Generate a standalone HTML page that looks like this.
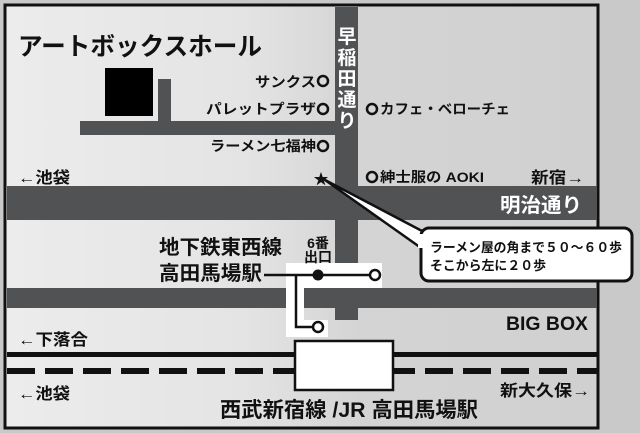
<!DOCTYPE html>
<html><head><meta charset="utf-8"><style>
html,body{margin:0;padding:0;background:#d0d0d0;}
svg{display:block;}
text{font-family:"Liberation Sans","Noto Sans CJK JP",sans-serif;font-weight:bold;}
</style></head><body>
<svg width="640" height="433" viewBox="0 0 640 433" xmlns="http://www.w3.org/2000/svg">
<defs>
<linearGradient id="bg" x1="0" y1="0" x2="1" y2="0">
<stop offset="0" stop-color="#ececec"/><stop offset="0.4" stop-color="#e4e4e4"/><stop offset="0.6" stop-color="#d4d4d4"/><stop offset="1" stop-color="#d0d0d0"/>
</linearGradient>
</defs>
<rect x="0" y="0" width="640" height="433" fill="#c9c9c9"/>
<rect x="5" y="5" width="593" height="423" fill="url(#bg)" stroke="#111" stroke-width="3"/>
<!-- roads -->
<rect x="335" y="7" width="23" height="313" fill="#505254"/>
<rect x="7" y="186" width="590" height="34" fill="#505254"/>
<rect x="7" y="288" width="590" height="20" fill="#505254"/>
<rect x="80" y="121" width="255" height="14" fill="#505254"/>
<rect x="158" y="79" width="13" height="44" fill="#505254"/>
<rect x="105" y="68" width="48" height="48" fill="#000"/>
<!-- title -->
<text x="18" y="55" font-size="25" fill="#111" textLength="244" lengthAdjust="spacingAndGlyphs">アートボックスホール</text>
<!-- vertical road text -->
<g fill="#fff" font-size="19" text-anchor="middle">
<text x="347" y="43">早</text><text x="347" y="64">稲</text><text x="347" y="85">田</text><text x="347" y="106">通</text><text x="347" y="127">り</text>
</g>
<!-- shops -->
<g font-size="14" fill="#111" lengthAdjust="spacingAndGlyphs">
<text x="255" y="87" textLength="61" lengthAdjust="spacingAndGlyphs">サンクス</text>
<text x="206" y="114" textLength="110" lengthAdjust="spacingAndGlyphs">パレットプラザ</text>
<text x="210" y="151" textLength="106" lengthAdjust="spacingAndGlyphs">ラーメン七福神</text>
<text x="380" y="114" textLength="130" lengthAdjust="spacingAndGlyphs">カフェ・ベローチェ</text>
<text x="380" y="182" textLength="104" lengthAdjust="spacingAndGlyphs">紳士服の AOKI</text>
</g>
<g fill="none" stroke="#111" stroke-width="2.5">
<circle cx="323" cy="81" r="5"/><circle cx="323" cy="109" r="5"/><circle cx="323" cy="146" r="5"/>
<circle cx="372" cy="109" r="5"/><circle cx="372" cy="177" r="5"/>
</g>
<text x="18" y="183" font-size="16" fill="#111" textLength="52" lengthAdjust="spacingAndGlyphs">←池袋</text>
<text x="531" y="183" font-size="16" fill="#111" textLength="53" lengthAdjust="spacingAndGlyphs">新宿→</text>
<text x="500" y="212" font-size="20" fill="#fff" textLength="82" lengthAdjust="spacingAndGlyphs">明治通り</text>
<text x="321" y="184" font-size="15" fill="#111" text-anchor="middle">★</text>
<!-- callout pointer -->
<polygon points="325,180 424,232 424,250" fill="#fff" stroke="#111" stroke-width="2.5" stroke-linejoin="round"/>
<rect x="421" y="228" width="211" height="53" rx="8" fill="#fff" stroke="#111" stroke-width="3"/>
<rect x="418" y="234" width="8" height="14" fill="#fff"/>
<text x="430" y="252" font-size="13" fill="#111" textLength="192" lengthAdjust="spacingAndGlyphs">ラーメン屋の角まで５０～６０歩</text>
<text x="430" y="270" font-size="13" fill="#111" textLength="116" lengthAdjust="spacingAndGlyphs">そこから左に２０歩</text>
<!-- subway -->
<rect x="286" y="263" width="96" height="25" fill="#fff"/>
<rect x="286" y="263" width="18" height="74" fill="#fff"/>
<rect x="304" y="320" width="24" height="17" fill="#fff"/>
<text x="159" y="254" font-size="20" fill="#111" textLength="123" lengthAdjust="spacingAndGlyphs">地下鉄東西線</text>
<text x="159" y="280" font-size="20" fill="#111" textLength="103" lengthAdjust="spacingAndGlyphs">高田馬場駅</text>
<text x="318" y="248" font-size="14" fill="#111" text-anchor="middle">6番</text>
<text x="318" y="262" font-size="14" fill="#111" text-anchor="middle">出口</text>
<g stroke="#111" stroke-width="2.5" fill="none">
<line x1="264" y1="275" x2="370" y2="275"/>
<polyline points="296,275 296,327 313,327"/>
</g>
<circle cx="318" cy="275" r="5.5" fill="#111"/>
<circle cx="375" cy="275" r="5" fill="#fff" stroke="#111" stroke-width="2.5"/>
<circle cx="318" cy="327" r="5" fill="#fff" stroke="#111" stroke-width="2.5"/>
<text x="506" y="330" font-size="19" fill="#111" textLength="82" lengthAdjust="spacingAndGlyphs">BIG BOX</text>
<text x="18" y="345" font-size="16" fill="#111" textLength="70" lengthAdjust="spacingAndGlyphs">←下落合</text>
<!-- rail -->
<rect x="7" y="352" width="590" height="5" fill="#111"/>
<line x1="7" y1="371" x2="597" y2="371" stroke="#111" stroke-width="6" stroke-dasharray="28 10"/>
<rect x="295" y="341" width="98" height="49" fill="#fff" stroke="#111" stroke-width="2.5"/>
<text x="18" y="399" font-size="16" fill="#111" textLength="52" lengthAdjust="spacingAndGlyphs">←池袋</text>
<text x="500" y="396" font-size="16" fill="#111" textLength="90" lengthAdjust="spacingAndGlyphs">新大久保→</text>
<text x="220" y="417" font-size="21" fill="#111" textLength="258" lengthAdjust="spacingAndGlyphs">西武新宿線 /JR 高田馬場駅</text>
</svg>
</body></html>
